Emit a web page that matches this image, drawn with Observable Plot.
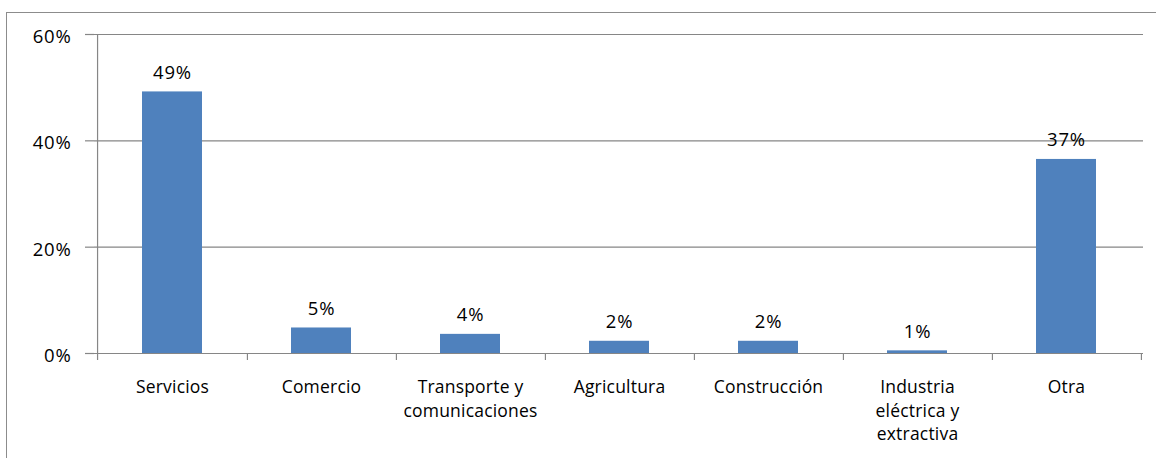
<!DOCTYPE html>
<html><head><meta charset="utf-8">
<script src="https://cdn.jsdelivr.net/npm/d3@7"></script>
<script src="https://cdn.jsdelivr.net/npm/@observablehq/plot@0.6"></script>
<style>
html,body{margin:0;padding:0;background:#fff;overflow:hidden;}
#wrap{position:relative;width:1156px;height:458px;}
#border{position:absolute;left:6px;top:12px;width:1200px;height:500px;border:1.5px solid #8c8c8c;box-sizing:border-box;}
#chart{position:absolute;left:0;top:0;}
#chart svg text.num, #chart svg g.num text{letter-spacing:0.8px;}
#chart svg g.cat text{letter-spacing:0.2px;}
</style></head>
<body><div id="wrap"><div id="border"></div><div id="chart"></div></div>
<script>
const categories = ["Servicios","Comercio","Transporte y\ncomunicaciones","Agricultura","Construcción","Industria\neléctrica y\nextractiva","Otra"];
const values = [49.2, 4.8, 3.6, 2.3, 2.3, 0.5, 36.5];
const valueLabels = ["49%","5%","4%","2%","2%","1%","37%"];
const yTicks = [0, 20, 40, 60];

const data = categories.map((c, i) => ({category: c, value: values[i], label: valueLabels[i]}));

const W = 1156, H = 458, mL = 94, mR = 13, mT = 34, mB = 105;
const step = (W - mL - mR) / categories.length;
const gray = "#868686";

const plot = Plot.plot({
  width: W, height: H,
  marginLeft: mL, marginRight: mR, marginTop: mT, marginBottom: mB,
  style: {fontFamily: "'Open Sans', sans-serif", fontSize: "17px", color: "#000", background: "transparent"},
  x: {domain: categories, paddingInner: 0.6, paddingOuter: 0.3, label: null},
  y: {domain: [0, 60], label: null},
  marks: [
    Plot.ruleY(yTicks, {stroke: gray, strokeWidth: 1.2}),
    Plot.barY(data, {x: "category", y: "value", fill: "#4F81BD"}),
    Plot.ruleX([categories[0]], {dx: -step / 2, y1: 60, y2: 0, insetBottom: -7, stroke: gray, strokeWidth: 1.2}),
    Plot.ruleX(categories, {dx: step / 2, y1: 0, y2: 0, insetBottom: -7, stroke: gray, strokeWidth: 1.2}),
    Plot.text(data, {x: "category", y: "value", text: "label", dy: -19, fontSize: 18.5, fill: "#000", className: "num"}),
    Plot.axisY(yTicks, {tickSize: 9, text: null, stroke: gray, strokeWidth: 1.2, label: null}),
    Plot.axisY(yTicks, {tickFormat: d => d + "%", tickSize: 0, tickPadding: 23, dy: 2.5, fontSize: 18.5, fill: "#000", label: null, className: "num"}),
    Plot.axisX({tickSize: 0, tickPadding: 23, fontSize: 17.5, lineHeight: 1.34, fill: "#000", label: null, className: "cat"})
  ]
});
document.getElementById("chart").appendChild(plot);
</script>
</body></html>
